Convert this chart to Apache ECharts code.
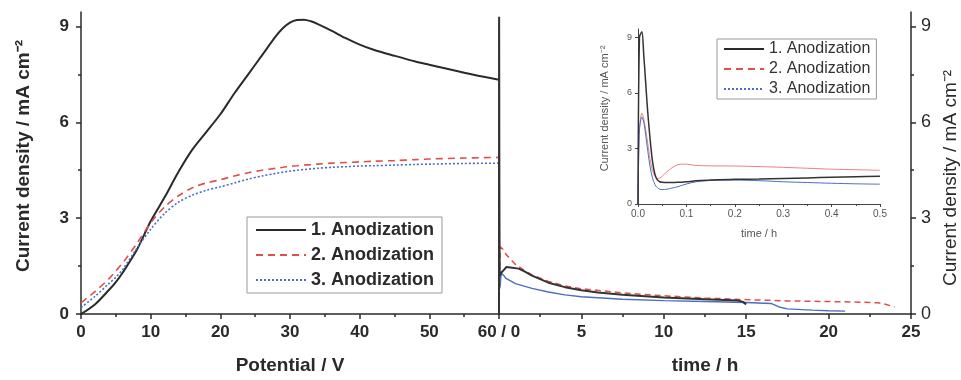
<!DOCTYPE html>
<html>
<head>
<meta charset="utf-8">
<script src="https://cdn.jsdelivr.net/npm/echarts@6/dist/echarts.min.js"></script>
<style>
  html, body { margin: 0; padding: 0; background: #fff; }
  #chart { width: 961px; height: 380px; }
</style>
</head>
<body>
<div id="chart"></div>
<script>
// legend / series names
const seriesNames = ['1. Anodization', '2. Anodization', '3. Anodization'];

// left panel: potential sweep (V) -> current density (mA cm-2)
const potential = [0, 2, 4, 5, 6, 8, 10, 12, 14, 16, 18, 20, 22, 24, 26, 28, 29, 30, 31, 32, 33, 34, 36, 38, 40, 42, 45, 48, 50, 55, 60];
const sweep1 = [0, 0.3, 0.75, 1.0, 1.3, 2.0, 2.9, 3.65, 4.45, 5.15, 5.7, 6.25, 6.9, 7.5, 8.1, 8.7, 8.95, 9.12, 9.2, 9.21, 9.16, 9.07, 8.86, 8.63, 8.43, 8.27, 8.08, 7.9, 7.8, 7.55, 7.33];
const sweep2 = [0.35, 0.7, 1.1, 1.35, 1.6, 2.2, 2.85, 3.35, 3.7, 3.95, 4.1, 4.2, 4.32, 4.42, 4.5, 4.56, 4.59, 4.62, 4.64, 4.66, 4.67, 4.69, 4.72, 4.74, 4.76, 4.78, 4.8, 4.83, 4.85, 4.88, 4.9];
const sweep3 = [0.2, 0.55, 0.95, 1.15, 1.4, 2.05, 2.65, 3.15, 3.5, 3.72, 3.87, 3.98, 4.1, 4.22, 4.32, 4.4, 4.44, 4.47, 4.5, 4.52, 4.54, 4.56, 4.59, 4.61, 4.63, 4.64, 4.66, 4.68, 4.69, 4.71, 4.72];

// first half hour (inset), time in h
const insetTime = [0, 0.003, 0.008, 0.012, 0.016, 0.02, 0.025, 0.03, 0.035, 0.04, 0.045, 0.05, 0.06, 0.07, 0.08, 0.09, 0.1, 0.12, 0.15, 0.2, 0.25, 0.3, 0.35, 0.4, 0.45, 0.5];
const early1 = [0, 9.0, 9.3, 8.0, 6.5, 5.0, 3.5, 2.3, 1.6, 1.3, 1.2, 1.17, 1.16, 1.16, 1.17, 1.18, 1.2, 1.25, 1.3, 1.33, 1.35, 1.38, 1.41, 1.44, 1.47, 1.5];
const early2 = [0, 4.0, 4.9, 4.6, 4.0, 3.3, 2.4, 1.8, 1.5, 1.38, 1.4, 1.5, 1.75, 1.95, 2.1, 2.15, 2.15, 2.08, 2.06, 2.05, 2.02, 1.98, 1.93, 1.88, 1.85, 1.82];
const early3 = [0, 4.0, 4.7, 4.4, 3.7, 2.9, 2.0, 1.4, 1.05, 0.88, 0.8, 0.78, 0.8, 0.86, 0.92, 1.0, 1.08, 1.2, 1.27, 1.29, 1.26, 1.2, 1.16, 1.12, 1.09, 1.07];

// rest of the potentiostatic step, time in h
const longTime1 = [0.8, 1.2, 1.6, 2, 3, 4, 5, 6, 7.5, 10, 12.5, 14.5, 14.8, 15];
const long1 = [1.45, 1.42, 1.32, 1.2, 0.98, 0.84, 0.74, 0.67, 0.6, 0.52, 0.46, 0.42, 0.38, 0.3];
const longTime2 = [1, 1.5, 2, 3, 4, 5, 7.5, 10, 12.5, 15, 17.5, 20, 22, 23, 23.5, 24];
const long2 = [1.55, 1.38, 1.22, 1.02, 0.88, 0.79, 0.66, 0.57, 0.5, 0.45, 0.41, 0.39, 0.37, 0.35, 0.3, 0.22];
const longTime3 = [1, 2, 3, 4, 5, 7.5, 10, 12.5, 15, 16.5, 17, 17.5, 19, 20, 21];
const long3 = [0.95, 0.8, 0.69, 0.6, 0.54, 0.46, 0.42, 0.39, 0.36, 0.33, 0.22, 0.16, 0.12, 0.1, 0.09];

const yTicks = [0, 3, 6, 9];
const yMinorTicks = [1.5, 4.5, 7.5];

const zip = (xs, ys) => xs.map((x, i) => [x, ys[i]]);
const FONT = "'Liberation Sans', Arial, sans-serif";
const INK = '#2a2a2a';
const RED = '#e0504a';
const BLUE = '#4a6ec4';

const chart = echarts.init(document.getElementById('chart'));

const boldText = { fontFamily: FONT, fontWeight: 'bold', fontSize: 17, color: INK };
const axisLine = { show: true, onZero: false, lineStyle: { color: INK, width: 1.5 } };
const noLine = { show: false, onZero: false };

const option = {
  backgroundColor: '#fff',
  animation: false,
  grid: [
    { left: 81, top: 12, width: 418, height: 303 },
    { left: 499, top: 12, width: 413, height: 303 },
    { left: 638, top: 29, width: 242, height: 175 }
  ],
  xAxis: [
    {
      gridIndex: 0, type: 'value', min: 0, max: 60, interval: 10, position: 'bottom',
      axisLine: axisLine,
      axisTick: { length: 5, lineStyle: { color: INK, width: 1.5 } },
      minorTick: { show: true, splitNumber: 2, length: 3, lineStyle: { color: INK, width: 1.5 } },
      splitLine: { show: false },
      axisLabel: Object.assign({}, boldText, { margin: 10, formatter: v => (v === 60 ? '' : v) }),
      name: 'Potential / V', nameLocation: 'middle', nameGap: 42,
      nameTextStyle: Object.assign({}, boldText, { fontSize: 19 })
    },
    {
      gridIndex: 1, type: 'value', min: 0, max: 25, interval: 5, position: 'bottom',
      axisLine: axisLine,
      axisTick: { length: 5, lineStyle: { color: INK, width: 1.5 } },
      minorTick: { show: true, splitNumber: 2, length: 3, lineStyle: { color: INK, width: 1.5 } },
      splitLine: { show: false },
      axisLabel: Object.assign({}, boldText, { margin: 10, formatter: v => (v === 0 ? '60 / 0' : v) }),
      name: 'time / h', nameLocation: 'middle', nameGap: 42,
      nameTextStyle: Object.assign({}, boldText, { fontSize: 19 })
    },
    {
      gridIndex: 2, type: 'value', min: 0, max: 0.5, interval: 0.1, position: 'bottom',
      axisLine: { show: true, onZero: false, lineStyle: { color: '#444', width: 1 } },
      axisTick: { length: 3, lineStyle: { color: '#444' } },
      minorTick: { show: true, splitNumber: 2, length: 2, lineStyle: { color: '#444' } },
      splitLine: { show: false },
      axisLabel: { fontFamily: FONT, fontSize: 10, color: '#555', margin: 5, formatter: v => v.toFixed(1) },
      name: 'time / h', nameLocation: 'middle', nameGap: 24,
      nameTextStyle: { fontFamily: FONT, fontSize: 11, color: '#555' }
    }
  ],
  yAxis: [
    {
      gridIndex: 0, type: 'value', min: 0, max: 9.45, position: 'left',
      axisLine: axisLine,
      axisTick: { length: 5, customValues: yTicks, lineStyle: { color: INK, width: 1.5 } },
      axisLabel: Object.assign({}, boldText, { margin: 12, customValues: yTicks }),
      splitLine: { show: false },
      name: 'Current density / mA cm⁻²', nameLocation: 'middle', nameRotate: 90, nameGap: 48,
      nameTextStyle: Object.assign({}, boldText, { fontSize: 19, padding: [0, 0, 0, 14] })
    },
    {
      gridIndex: 0, type: 'value', min: 0, max: 9.45, position: 'left',
      axisLine: noLine,
      axisTick: { length: 3, customValues: yMinorTicks, lineStyle: { color: INK, width: 1.5 } },
      axisLabel: { show: false },
      splitLine: { show: false }
    },
    {
      gridIndex: 1, type: 'value', min: 0, max: 9.45, position: 'right',
      axisLine: axisLine,
      axisTick: { length: 5, customValues: yTicks, lineStyle: { color: INK, width: 1.5 } },
      axisLabel: { fontFamily: FONT, fontSize: 18, color: INK, margin: 10, customValues: yTicks },
      splitLine: { show: false },
      name: 'Current density / mA cm⁻²', nameLocation: 'middle', nameRotate: 90, nameGap: 30,
      nameTextStyle: { fontFamily: FONT, fontSize: 19, color: INK, padding: [0, 30, 0, 0] }
    },
    {
      gridIndex: 1, type: 'value', min: 0, max: 9.45, position: 'right',
      axisLine: noLine,
      axisTick: { length: 3, customValues: yMinorTicks, lineStyle: { color: INK, width: 1.5 } },
      axisLabel: { show: false },
      splitLine: { show: false }
    },
    {
      gridIndex: 2, type: 'value', min: 0, max: 9.45, position: 'left',
      axisLine: { show: true, onZero: false, lineStyle: { color: '#444', width: 1 } },
      axisTick: { length: 3, customValues: yTicks, lineStyle: { color: '#444' } },
      axisLabel: { fontFamily: FONT, fontSize: 9, color: '#555', margin: 6, customValues: yTicks },
      splitLine: { show: false },
      name: 'Current density / mA cm⁻²', nameLocation: 'middle', nameRotate: 90, nameGap: 28,
      nameTextStyle: { fontFamily: FONT, fontSize: 11, color: '#555', padding: [0, 0, 0, 16] }
    }
  ],
  legend: [
    {
      data: seriesNames,
      orient: 'vertical', left: 247, top: 217,
      padding: [4, 8, 4, 8], itemGap: 7, itemWidth: 50, itemHeight: 14,
      borderColor: '#999', borderWidth: 1,
      itemStyle: { opacity: 0 },
      textStyle: { fontFamily: FONT, fontWeight: 'bold', fontSize: 18, color: INK }
    },
    {
      data: seriesNames,
      orient: 'vertical', left: 717, top: 39,
      padding: [2, 6, 2, 6], itemGap: 4, itemWidth: 40, itemHeight: 14,
      borderColor: '#999', borderWidth: 1,
      itemStyle: { opacity: 0 },
      textStyle: { fontFamily: FONT, fontSize: 16, color: '#333' }
    }
  ],
  series: [
    // potential sweep
    { name: seriesNames[0], type: 'line', xAxisIndex: 0, yAxisIndex: 0, symbol: 'none', smooth: 0.3,
      data: zip(potential, sweep1), lineStyle: { color: INK, width: 2 }, itemStyle: { color: INK } },
    { name: seriesNames[1], type: 'line', xAxisIndex: 0, yAxisIndex: 0, symbol: 'none', smooth: 0.3,
      data: zip(potential, sweep2), lineStyle: { color: RED, width: 1.6, type: [7, 5] }, itemStyle: { color: RED } },
    { name: seriesNames[2], type: 'line', xAxisIndex: 0, yAxisIndex: 0, symbol: 'none', smooth: 0.3,
      data: zip(potential, sweep3), lineStyle: { color: BLUE, width: 1.6, type: [2, 2] }, itemStyle: { color: BLUE } },
    // potentiostatic step
    { name: seriesNames[1], type: 'line', xAxisIndex: 1, yAxisIndex: 2, symbol: 'none',
      data: zip(insetTime, early2).concat(zip(longTime2, long2)), lineStyle: { color: RED, width: 1.5, type: [6, 4] } },
    { name: seriesNames[2], type: 'line', xAxisIndex: 1, yAxisIndex: 2, symbol: 'none',
      data: zip(insetTime, early3).concat(zip(longTime3, long3)), lineStyle: { color: BLUE, width: 1.4 } },
    { name: seriesNames[0], type: 'line', xAxisIndex: 1, yAxisIndex: 2, symbol: 'none',
      data: zip(insetTime, early1).concat(zip(longTime1, long1)), lineStyle: { color: '#333', width: 2 } },
    // inset
    { name: seriesNames[1], type: 'line', xAxisIndex: 2, yAxisIndex: 4, symbol: 'none', smooth: 0.3,
      data: zip(insetTime, early2), lineStyle: { color: '#ee8080', width: 1 } },
    { name: seriesNames[2], type: 'line', xAxisIndex: 2, yAxisIndex: 4, symbol: 'none', smooth: 0.3,
      data: zip(insetTime, early3), lineStyle: { color: BLUE, width: 1 } },
    { name: seriesNames[0], type: 'line', xAxisIndex: 2, yAxisIndex: 4, symbol: 'none', smooth: 0.3,
      data: zip(insetTime, early1), lineStyle: { color: '#333', width: 1.5 } }
  ]
};

chart.setOption(option);
</script>
</body>
</html>
